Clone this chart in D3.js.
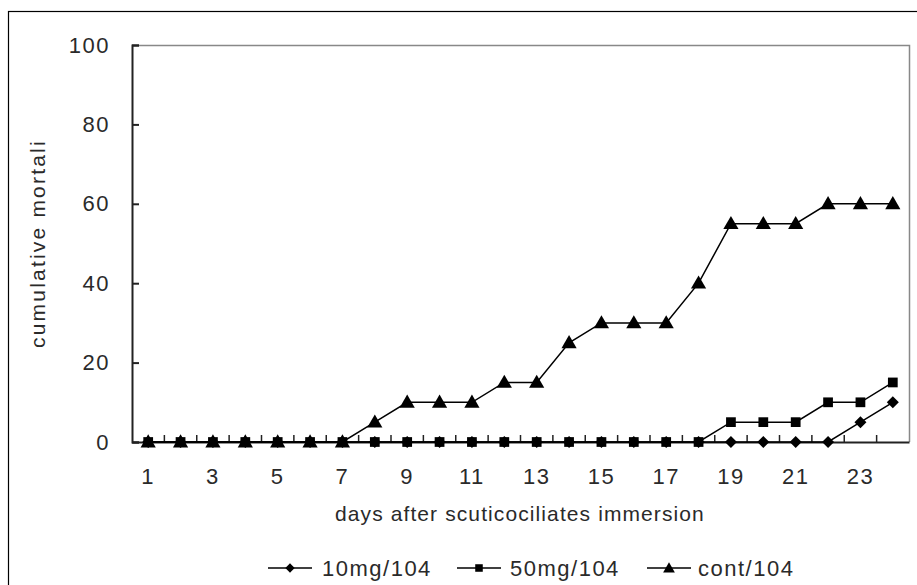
<!DOCTYPE html>
<html><head><meta charset="utf-8">
<script src="https://cdn.jsdelivr.net/npm/d3@7"></script>
<style>
body{margin:0;background:#fff;}
svg{display:block;}
text{font-family:"Liberation Sans","Noto Sans CJK KR",Arial,sans-serif;fill:#2a2a2a;}
</style></head>
<body>
<svg id="c" width="917" height="585"></svg>
<script>
const days = d3.range(1,25);
const tickLabels = ["1","3","5","7","9","11","13","15","17","19","21","23"];
const yTicks = [0,20,40,60,80,100];
const seriesNames = ["10mg/104","50mg/104","cont/104"];
const s10mg = [0,0,0,0,0,0,0,0,0,0,0,0,0,0,0,0,0,0,0,0,0,0,5,10];
const s50mg = [0,0,0,0,0,0,0,0,0,0,0,0,0,0,0,0,0,0,5,5,5,10,10,15];
const sCont = [0,0,0,0,0,0,0,5,10,10,10,15,15,25,30,30,30,40,55,55,55,60,60,60];

const svg = d3.select("#c");
const L=132, R=909, T=45, B=442;

// outer frame
svg.append("rect").attr("x",8.5).attr("y",11.5).attr("width",920).attr("height",600)
  .attr("fill","none").attr("stroke","#000").attr("stroke-width",1.2);

const x = d3.scaleBand().domain(days).range([L,R]);
const y = d3.scaleLinear().domain([0,100]).range([B,T]);

// plot frame (grey top/right)
svg.append("path").attr("d",`M${L},${T+0.5}H${R+0.5}V${B}`).attr("fill","none")
  .attr("stroke","#888").attr("stroke-width",1.5);

// y axis
const yAxis = d3.axisLeft(y).tickValues(yTicks).tickSize(-7).tickPadding(22);
const gy = svg.append("g").attr("transform",`translate(${L},0)`).call(yAxis);
gy.select(".domain").attr("stroke","#222").attr("stroke-width",2);
gy.selectAll(".tick line").attr("stroke","#222").attr("stroke-width",2);
gy.selectAll(".tick text").style("font-size","22px").style("letter-spacing","1.5px").attr("fill","#2a2a2a");

// x axis
const xAxis = d3.axisBottom(x).tickSize(0).tickPadding(26)
  .tickFormat(d => tickLabels.includes(String(d)) ? d : "");
const gx = svg.append("g").attr("transform",`translate(0,${B})`).call(xAxis);
gx.select(".domain").attr("stroke","#222").attr("stroke-width",2);
gx.selectAll(".tick text").style("font-size","22px").style("letter-spacing","1.5px").attr("fill","#2a2a2a");
// category-boundary tick marks (inward)
svg.append("g").selectAll("line").data(days.slice(1)).join("line")
  .attr("x1",d=>x(d)).attr("x2",d=>x(d)).attr("y1",B).attr("y2",B-7)
  .attr("stroke","#222").attr("stroke-width",1.5);

// axis titles
svg.append("text").attr("x",335).attr("y",521).attr("text-anchor","start")
  .style("font-size","21px").style("letter-spacing","1.1px").text("days after scuticociliates immersion");
svg.append("text").attr("transform","translate(45,348) rotate(-90)").attr("text-anchor","start")
  .style("font-size","21px").style("letter-spacing","2.2px").text("cumulative mortali");

const diamond = {draw(ctx,size){const r=Math.sqrt(size/2);ctx.moveTo(0,-r);ctx.lineTo(r,0);ctx.lineTo(0,r);ctx.lineTo(-r,0);ctx.closePath();}};
const line = d3.line().x((d,i)=>x(days[i])+x.bandwidth()/2).y(d=>y(d));
const symMap = {"10mg/104":diamond,"50mg/104":d3.symbolSquare,"cont/104":d3.symbolTriangle};
const sizeMap = {"10mg/104":72,"50mg/104":95,"cont/104":100};
const data = [["cont/104",sCont],["10mg/104",s10mg],["50mg/104",s50mg]];

data.forEach(([name,vals])=>{
  svg.append("path").attr("d",line(vals)).attr("fill","none").attr("stroke","#000").attr("stroke-width",1.5);
});
data.forEach(([name,vals])=>{
  svg.append("g").selectAll("path").data(vals).join("path")
    .attr("transform",(d,i)=>`translate(${x(days[i])+x.bandwidth()/2},${y(d)+(name==="cont/104"?1:0)})`)
    .attr("d",d3.symbol().type(symMap[name]).size(sizeMap[name])).attr("fill","#000");
});

// legend
const legX = [268,457,647];
seriesNames.forEach((n,i)=>{
  const g = svg.append("g").attr("transform",`translate(${legX[i]},568)`);
  g.append("line").attr("x1",0).attr("x2",44).attr("y1",0).attr("y2",0).attr("stroke","#000").attr("stroke-width",1.5);
  g.append("path").attr("transform",`translate(22,${n==="cont/104"?1:0})`)
    .attr("d",d3.symbol().type(symMap[n]).size(sizeMap[n]*0.6)).attr("fill","#000");
  g.append("text").attr("x",i===2?51:(i===1?53:54)).attr("y",8).style("font-size","22px").style("letter-spacing","1.5px").text(n);
});
</script>
</body></html>
